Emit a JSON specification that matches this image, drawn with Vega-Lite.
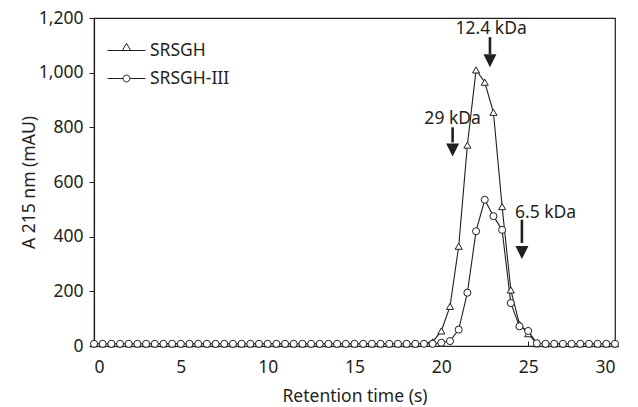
{
  "$schema": "https://vega.github.io/schema/vega-lite/v6.json",
  "width": 521,
  "height": 328,
  "autosize": {"type": "none"},
  "padding": {"left": 94, "top": 18, "right": 23, "bottom": 61},
  "background": "white",
  "config": {
    "view": {"stroke": "#231f20", "strokeWidth": 1.2},
    "font": "Noto Sans",
    "axis": {"labelFont": "Noto Sans", "titleFont": "Noto Sans", "labelFontSize": 17.5, "titleFontSize": 17.5, "titleFontWeight": "normal", "labelColor": "#231f20", "titleColor": "#231f20", "domainColor": "#231f20", "tickColor": "#231f20", "grid": false, "domainWidth": 1.2, "tickWidth": 1}
  },
  "resolve": {"scale": {"shape": "independent"}},
  "datasets": {
    "series": [
      {"t": 0, "s": "SRSGH", "v": 8}, {"t": 0.5, "s": "SRSGH", "v": 8}, {"t": 1, "s": "SRSGH", "v": 8}, {"t": 1.5, "s": "SRSGH", "v": 8}, {"t": 2, "s": "SRSGH", "v": 8}, {"t": 2.5, "s": "SRSGH", "v": 8}, {"t": 3, "s": "SRSGH", "v": 8}, {"t": 3.5, "s": "SRSGH", "v": 8}, {"t": 4, "s": "SRSGH", "v": 8}, {"t": 4.5, "s": "SRSGH", "v": 8},
      {"t": 5, "s": "SRSGH", "v": 8}, {"t": 5.5, "s": "SRSGH", "v": 8}, {"t": 6, "s": "SRSGH", "v": 8}, {"t": 6.5, "s": "SRSGH", "v": 8}, {"t": 7, "s": "SRSGH", "v": 8}, {"t": 7.5, "s": "SRSGH", "v": 8}, {"t": 8, "s": "SRSGH", "v": 8}, {"t": 8.5, "s": "SRSGH", "v": 8}, {"t": 9, "s": "SRSGH", "v": 8}, {"t": 9.5, "s": "SRSGH", "v": 8},
      {"t": 10, "s": "SRSGH", "v": 8}, {"t": 10.5, "s": "SRSGH", "v": 8}, {"t": 11, "s": "SRSGH", "v": 8}, {"t": 11.5, "s": "SRSGH", "v": 8}, {"t": 12, "s": "SRSGH", "v": 8}, {"t": 12.5, "s": "SRSGH", "v": 8}, {"t": 13, "s": "SRSGH", "v": 8}, {"t": 13.5, "s": "SRSGH", "v": 8}, {"t": 14, "s": "SRSGH", "v": 8}, {"t": 14.5, "s": "SRSGH", "v": 8},
      {"t": 15, "s": "SRSGH", "v": 8}, {"t": 15.5, "s": "SRSGH", "v": 8}, {"t": 16, "s": "SRSGH", "v": 8}, {"t": 16.5, "s": "SRSGH", "v": 8}, {"t": 17, "s": "SRSGH", "v": 8}, {"t": 17.5, "s": "SRSGH", "v": 8}, {"t": 18, "s": "SRSGH", "v": 8}, {"t": 18.5, "s": "SRSGH", "v": 8}, {"t": 19, "s": "SRSGH", "v": 10}, {"t": 19.5, "s": "SRSGH", "v": 15},
      {"t": 20, "s": "SRSGH", "v": 55}, {"t": 20.5, "s": "SRSGH", "v": 145}, {"t": 21, "s": "SRSGH", "v": 365}, {"t": 21.5, "s": "SRSGH", "v": 735}, {"t": 22, "s": "SRSGH", "v": 1010}, {"t": 22.5, "s": "SRSGH", "v": 965}, {"t": 23, "s": "SRSGH", "v": 855}, {"t": 23.5, "s": "SRSGH", "v": 510}, {"t": 24, "s": "SRSGH", "v": 205}, {"t": 24.5, "s": "SRSGH", "v": 80},
      {"t": 25, "s": "SRSGH", "v": 45}, {"t": 25.5, "s": "SRSGH", "v": 8}, {"t": 26, "s": "SRSGH", "v": 8}, {"t": 26.5, "s": "SRSGH", "v": 8}, {"t": 27, "s": "SRSGH", "v": 8}, {"t": 27.5, "s": "SRSGH", "v": 8}, {"t": 28, "s": "SRSGH", "v": 8}, {"t": 28.5, "s": "SRSGH", "v": 8}, {"t": 29, "s": "SRSGH", "v": 8}, {"t": 29.5, "s": "SRSGH", "v": 8}, {"t": 30, "s": "SRSGH", "v": 8},
      {"t": 0, "s": "SRSGH-III", "v": 8}, {"t": 0.5, "s": "SRSGH-III", "v": 8}, {"t": 1, "s": "SRSGH-III", "v": 8}, {"t": 1.5, "s": "SRSGH-III", "v": 8}, {"t": 2, "s": "SRSGH-III", "v": 8}, {"t": 2.5, "s": "SRSGH-III", "v": 8}, {"t": 3, "s": "SRSGH-III", "v": 8}, {"t": 3.5, "s": "SRSGH-III", "v": 8}, {"t": 4, "s": "SRSGH-III", "v": 8}, {"t": 4.5, "s": "SRSGH-III", "v": 8},
      {"t": 5, "s": "SRSGH-III", "v": 8}, {"t": 5.5, "s": "SRSGH-III", "v": 8}, {"t": 6, "s": "SRSGH-III", "v": 8}, {"t": 6.5, "s": "SRSGH-III", "v": 8}, {"t": 7, "s": "SRSGH-III", "v": 8}, {"t": 7.5, "s": "SRSGH-III", "v": 8}, {"t": 8, "s": "SRSGH-III", "v": 8}, {"t": 8.5, "s": "SRSGH-III", "v": 8}, {"t": 9, "s": "SRSGH-III", "v": 8}, {"t": 9.5, "s": "SRSGH-III", "v": 8},
      {"t": 10, "s": "SRSGH-III", "v": 8}, {"t": 10.5, "s": "SRSGH-III", "v": 8}, {"t": 11, "s": "SRSGH-III", "v": 8}, {"t": 11.5, "s": "SRSGH-III", "v": 8}, {"t": 12, "s": "SRSGH-III", "v": 8}, {"t": 12.5, "s": "SRSGH-III", "v": 8}, {"t": 13, "s": "SRSGH-III", "v": 8}, {"t": 13.5, "s": "SRSGH-III", "v": 8}, {"t": 14, "s": "SRSGH-III", "v": 8}, {"t": 14.5, "s": "SRSGH-III", "v": 8},
      {"t": 15, "s": "SRSGH-III", "v": 8}, {"t": 15.5, "s": "SRSGH-III", "v": 8}, {"t": 16, "s": "SRSGH-III", "v": 8}, {"t": 16.5, "s": "SRSGH-III", "v": 8}, {"t": 17, "s": "SRSGH-III", "v": 8}, {"t": 17.5, "s": "SRSGH-III", "v": 8}, {"t": 18, "s": "SRSGH-III", "v": 8}, {"t": 18.5, "s": "SRSGH-III", "v": 8}, {"t": 19, "s": "SRSGH-III", "v": 8}, {"t": 19.5, "s": "SRSGH-III", "v": 8},
      {"t": 20, "s": "SRSGH-III", "v": 12}, {"t": 20.5, "s": "SRSGH-III", "v": 18}, {"t": 21, "s": "SRSGH-III", "v": 60}, {"t": 21.5, "s": "SRSGH-III", "v": 195}, {"t": 22, "s": "SRSGH-III", "v": 420}, {"t": 22.5, "s": "SRSGH-III", "v": 535}, {"t": 23, "s": "SRSGH-III", "v": 475}, {"t": 23.5, "s": "SRSGH-III", "v": 425}, {"t": 24, "s": "SRSGH-III", "v": 157}, {"t": 24.5, "s": "SRSGH-III", "v": 72},
      {"t": 25, "s": "SRSGH-III", "v": 55}, {"t": 25.5, "s": "SRSGH-III", "v": 10}, {"t": 26, "s": "SRSGH-III", "v": 8}, {"t": 26.5, "s": "SRSGH-III", "v": 8}, {"t": 27, "s": "SRSGH-III", "v": 8}, {"t": 27.5, "s": "SRSGH-III", "v": 8}, {"t": 28, "s": "SRSGH-III", "v": 8}, {"t": 28.5, "s": "SRSGH-III", "v": 8}, {"t": 29, "s": "SRSGH-III", "v": 8}, {"t": 29.5, "s": "SRSGH-III", "v": 8}, {"t": 30, "s": "SRSGH-III", "v": 8}
    ],
    "markers": [
      {"label": "12.4 kDa", "tx": 22.87, "ty": 1160, "ax": 22.8, "top": 1130, "headTop": 1068, "head": 1044},
      {"label": "29 kDa", "tx": 20.65, "ty": 829, "ax": 20.65, "top": 800, "headTop": 745, "head": 717},
      {"label": "6.5 kDa", "tx": 26.0, "ty": 488, "ax": 24.64, "top": 462, "headTop": 377, "head": 342}
    ]
  },
  "layer": [
    {
      "data": {"name": "series"},
      "mark": {"type": "line", "color": "#231f20", "strokeWidth": 1.1},
      "encoding": {
        "x": {"field": "t", "type": "quantitative", "scale": {"domain": [0, 30], "nice": false}, "axis": {"title": "Retention time (s)", "values": [0, 5, 10, 15, 20, 25, 30], "tickSize": -5, "labelPadding": 17, "titlePadding": 12}},
        "y": {"field": "v", "type": "quantitative", "scale": {"domain": [0, 1200], "nice": false}, "axis": {"title": "A 215 nm (mAU)", "values": [0, 200, 400, 600, 800, 1000, 1200], "format": ",d", "tickSize": 5, "labelPadding": 6, "titlePadding": 0}},
        "detail": {"field": "s", "type": "nominal"}
      }
    },
    {
      "data": {"name": "series"},
      "mark": {"type": "point", "filled": true, "fill": "white", "stroke": "#231f20", "strokeWidth": 1, "opacity": 1, "size": 50},
      "encoding": {
        "x": {"field": "t", "type": "quantitative"},
        "y": {"field": "v", "type": "quantitative"},
        "shape": {"field": "s", "type": "nominal", "scale": {"domain": ["SRSGH", "SRSGH-III"], "range": ["triangle-up", "circle"]}, "legend": null}
      }
    },
    {
      "data": {"name": "series"},
      "transform": [{"filter": "datum.t < 0"}],
      "mark": {"type": "point", "filled": false, "color": "#231f20", "strokeWidth": 1, "opacity": 1},
      "encoding": {
        "x": {"field": "t", "type": "quantitative"},
        "y": {"field": "v", "type": "quantitative"},
        "shape": {"field": "s", "type": "nominal", "scale": {"domain": ["SRSGH", "SRSGH-III"], "range": ["M-1,0H1M-0.22,0L0.22,0L0,-0.38Z", "M-1,0H-0.18M0.18,0H1M-0.18,0A0.18,0.18,0,1,1,0.18,0A0.18,0.18,0,1,1,-0.18,0Z"]},
          "legend": {"title": null, "orient": "none", "legendX": 13, "legendY": 13, "labelFont": "Noto Sans", "labelFontSize": 17.5, "labelColor": "#231f20", "symbolSize": 1444, "symbolStrokeColor": "#231f20", "symbolStrokeWidth": 1, "symbolOpacity": 1, "labelOffset": 4, "rowPadding": -8}}
      }
    },
    {
      "data": {"name": "markers"},
      "mark": {"type": "rule", "color": "#231f20", "strokeWidth": 2.6},
      "encoding": {
        "x": {"field": "ax", "type": "quantitative"},
        "y": {"field": "top", "type": "quantitative"},
        "y2": {"field": "headTop"}
      }
    },
    {
      "data": {"name": "markers"},
      "mark": {"type": "point", "shape": "M-1,-1L1,-1L0,1Z", "size": 169, "filled": true, "color": "#231f20", "opacity": 1},
      "encoding": {
        "x": {"field": "ax", "type": "quantitative"},
        "y": {"field": "head", "type": "quantitative"}
      }
    },
    {
      "data": {"name": "markers"},
      "mark": {"type": "text", "font": "Noto Sans", "fontSize": 17.5, "color": "#231f20", "align": "center", "baseline": "middle"},
      "encoding": {
        "x": {"field": "tx", "type": "quantitative"},
        "y": {"field": "ty", "type": "quantitative"},
        "text": {"field": "label"}
      }
    }
  ]
}
